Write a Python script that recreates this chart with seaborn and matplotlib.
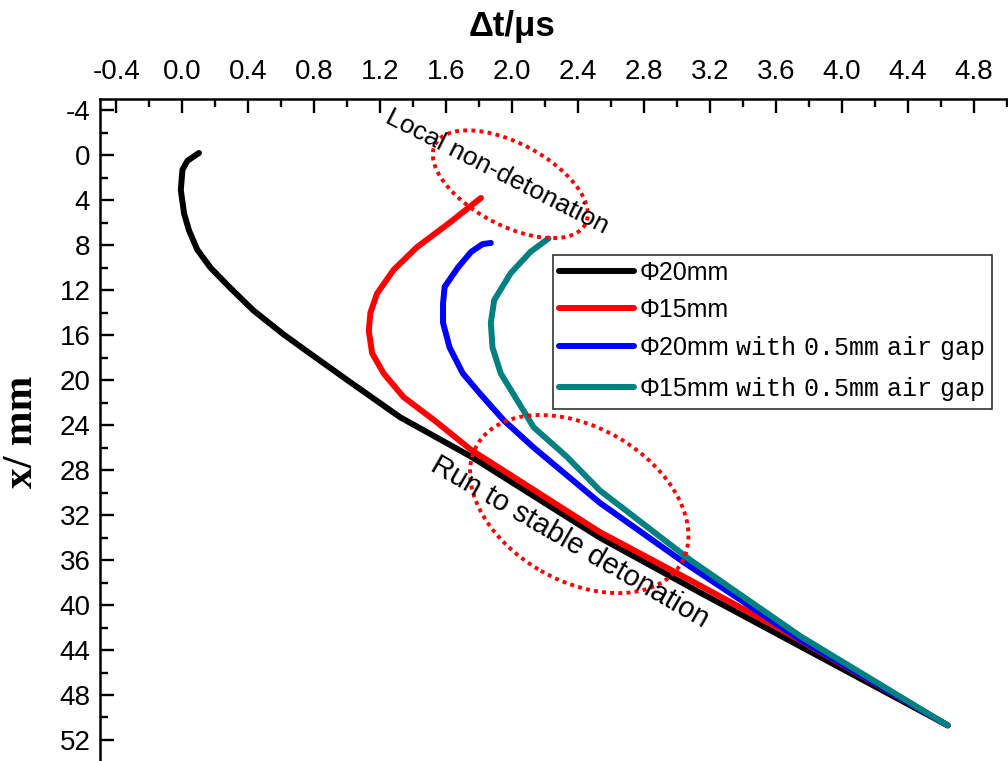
import pandas as pd
import matplotlib
matplotlib.use("Agg")
import matplotlib.pyplot as plt
from matplotlib.patches import Ellipse
from matplotlib.ticker import MultipleLocator, FormatStrFormatter
from matplotlib.transforms import ScaledTranslation
import seaborn as sns

# Φ20mm
dt_20 = [0.10, 0.03, 0.00, -0.01, 0.01, 0.04, 0.09, 0.17, 0.29, 0.43, 0.61, 0.78, 1.00, 1.32, 1.75, 2.53, 3.14, 4.64]
x_20 = [-0.2, 0.5, 1.3, 3.1, 5.2, 6.7, 8.4, 10.0, 11.8, 13.8, 15.9, 17.7, 20.0, 23.3, 26.8, 34.0, 38.9, 50.7]

# Φ15mm
dt_15 = [1.81, 1.62, 1.42, 1.28, 1.18, 1.14, 1.13, 1.15, 1.22, 1.34, 1.53, 1.75, 2.53, 3.08, 3.67, 4.64]
x_15 = [3.8, 6.0, 8.2, 10.2, 12.3, 14.0, 15.6, 17.6, 19.4, 21.5, 23.6, 26.2, 33.5, 37.8, 42.5, 50.7]

# Φ20mm with 0.5mm air gap
dt_20g = [1.87, 1.82, 1.75, 1.67, 1.59, 1.58, 1.58, 1.62, 1.70, 1.81, 1.95, 2.13, 2.53, 3.04, 3.75, 4.64]
x_20g = [7.8, 7.9, 8.6, 10.0, 11.7, 13.2, 14.9, 17.1, 19.4, 21.3, 23.6, 26.0, 30.9, 36.2, 43.1, 50.7]

# Φ15mm with 0.5mm air gap
dt_15g = [2.22, 2.11, 1.99, 1.89, 1.87, 1.88, 1.93, 2.03, 2.13, 2.33, 2.53, 3.08, 3.75, 4.64]
x_15g = [7.4, 8.6, 10.5, 12.9, 14.9, 17.1, 19.4, 21.8, 24.2, 26.8, 29.8, 36.0, 42.8, 50.7]

labels = ["Φ20mm", "Φ15mm",
          "Φ20mm $\\mathtt{with\\ 0.5mm\\ air\\ gap}$",
          "Φ15mm $\\mathtt{with\\ 0.5mm\\ air\\ gap}$"]
colors = ["#000000", "#ff0000", "#0000ff", "#008080"]

df = pd.concat([
    pd.DataFrame({"dt": d, "x": x, "series": lab})
    for d, x, lab in zip([dt_20, dt_15, dt_20g, dt_15g], [x_20, x_15, x_20g, x_15g], labels)
], ignore_index=True)

sns.set_theme(style="ticks")
plt.rcParams["font.family"] = ["Liberation Sans", "DejaVu Sans"]
plt.rcParams["axes.unicode_minus"] = False
plt.rcParams["mathtext.fontset"] = "custom"
plt.rcParams["mathtext.rm"] = "Liberation Sans"
plt.rcParams["mathtext.tt"] = "Liberation Mono"
for k in ["text.color", "axes.labelcolor", "xtick.color", "ytick.color", "axes.edgecolor"]:
    plt.rcParams[k] = "black"

fig = plt.figure(figsize=(10.08, 7.61), dpi=100)
ax = fig.add_axes([100 / 1008, 0, 908 / 1008, 662 / 761])

sns.lineplot(data=df, x="dt", y="x", hue="series", hue_order=labels, palette=colors,
             sort=False, estimator=None, linewidth=4.3, ax=ax)

ax.set_xlim(-0.5, 5.006)
ax.set_ylim(53.87, -5)

# achsen oben / links
ax.xaxis.tick_top()
ax.xaxis.set_major_locator(MultipleLocator(0.4))
ax.xaxis.set_minor_locator(MultipleLocator(0.2))
ax.xaxis.set_major_formatter(FormatStrFormatter("%.1f"))
ax.yaxis.set_major_locator(MultipleLocator(4))
ax.yaxis.set_minor_locator(MultipleLocator(2))
ax.tick_params(which="major", direction="in", length=10, width=1.7, labelsize=20, color="black")
ax.tick_params(which="minor", direction="in", length=6, width=1.7, color="black")
ax.tick_params(axis="x", which="both", top=True, bottom=False, labeltop=True, labelbottom=False, pad=10)
ax.tick_params(axis="y", which="major", pad=7)
for s in ["right", "bottom"]:
    ax.spines[s].set_visible(False)
for s in ["top", "left"]:
    ax.spines[s].set_linewidth(1.8)
    ax.spines[s].set_color("black")

ax.set_xlabel("Δt/μs", fontsize=25, fontweight="bold")
ax.xaxis.set_label_position("top")
ax.xaxis.label.set_verticalalignment("center")
ax.xaxis.set_label_coords(0.4537, 1.110)
ax.set_ylabel("x/ mm", fontsize=30, fontweight="bold", family="Liberation Serif")
ax.yaxis.label.set_verticalalignment("center")
ax.yaxis.set_label_coords(-0.0859, 0.497)

# gepunktete Ellipsen (Größe in Zoll, Mittelpunkt in Daten)
def ring(xc, yc, w, h, ang):
    tr = fig.dpi_scale_trans + ScaledTranslation(xc, yc, ax.transData)
    ax.add_patch(Ellipse((0, 0), w, h, angle=ang, transform=tr, fill=False,
                         edgecolor="red", linestyle=(0, (1, 1.1)), linewidth=2.8,
                         clip_on=False, zorder=3))

ring(1.988, 2.58, 1.70, 0.82, -28)
ring(2.406, 31.02, 2.36, 1.54, -30)

ax.text(1.91, 1.5, "Local non-detonation", rotation=-27, rotation_mode="anchor",
        ha="center", va="center", fontsize=19, color="black", zorder=4)
ax.text(2.35, 34.4, "Run to stable detonation", rotation=-30, rotation_mode="anchor",
        ha="center", va="center", fontsize=21, color="black", zorder=4)

sns.move_legend(ax, "upper left", bbox_to_anchor=(0.4989, 0.7644), title=None,
                frameon=True, fancybox=False, framealpha=1, edgecolor="#333333",
                fontsize=18, borderpad=0.25, borderaxespad=0, handlelength=3.0,
                handletextpad=0.2, labelspacing=0.5)
ax.get_legend().get_frame().set_linewidth(1.2)

fig.savefig("out.png", dpi=100)
